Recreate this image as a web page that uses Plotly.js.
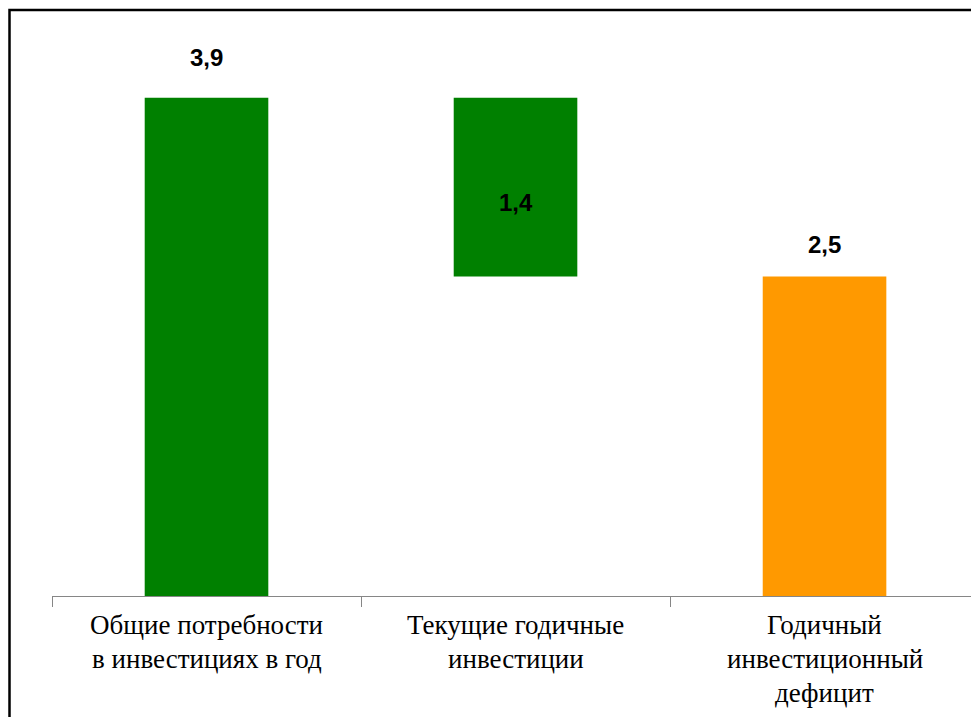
<!DOCTYPE html>
<html>
<head>
<meta charset="utf-8">
<script src="https://cdn.plot.ly/plotly-3.0.1.min.js"></script>
<style>
html,body{margin:0;padding:0;background:#fff;overflow:hidden;}
#chart{width:971px;height:717px;}
</style>
</head>
<body>
<div id="chart"></div>
<script>
// Data
const categories = [
  "Общие потребности<br>в инвестициях в год",
  "Текущие годичные<br>инвестиции",
  "Годичный<br>инвестиционный<br>дефицит"
];
const totalNeed = 3.9;
const currentInvest = 1.4;
const deficit = 2.5;
const values = [totalNeed, currentInvest, deficit];
const bases = [0, totalNeed - currentInvest, 0];
const barColors = ["#008000", "#008000", "#FF9900"];

const fmt = v => v.toFixed(1).replace(".", ",");

const trace = {
  type: "bar",
  x: categories,
  y: values,
  base: bases,
  marker: {color: barColors, line: {width: 0}},
  width: 0.4,
  hoverinfo: "skip"
};

const valueLabels = [
  {x: categories[0], y: bases[0] + values[0], yshift: 40},
  {x: categories[1], y: bases[1] + values[1] / 2, yshift: -15},
  {x: categories[2], y: bases[2] + values[2], yshift: 32}
].map((a, i) => Object.assign({
  text: "<b>" + fmt(values[i]) + "</b>",
  showarrow: false, xref: "x", yref: "y",
  xanchor: "center", yanchor: "middle",
  font: {family: "Liberation Sans", size: 24, color: "#000"}
}, a));

// category labels: one single-line annotation per text line
const labelFamilies = ["Times New Roman", "Liberation Serif", "serif"];
const categoryLabels = [];
categories.forEach((c, i) => {
  c.split("<br>").forEach((line, j) => {
    categoryLabels.push({
      text: line, x: c, xref: "x", y: 0, yref: "paper",
      xanchor: "center", yanchor: "top",
      yshift: -12 - 34 * j, showarrow: false,
      font: {family: labelFamilies[i], size: 27, color: "black"}
    });
  });
});

const layout = {
  width: 971, height: 717,
  margin: {l: 52, r: 0, t: 21, b: 121, pad: 0},
  paper_bgcolor: "#fff", plot_bgcolor: "#fff",
  font: {family: "Liberation Serif", size: 26, color: "black"},
  showlegend: false,
  xaxis: {
    type: "category",
    range: [-0.5, 2.474],
    showline: true, linecolor: "#868686", linewidth: 1,
    ticks: "outside", tickson: "boundaries", ticklen: 10, tickcolor: "#868686", tickwidth: 1,
    showticklabels: false,
    showgrid: false, zeroline: false, fixedrange: true
  },
  yaxis: {
    range: [0, 4.5],
    visible: false, showgrid: false, zeroline: false, fixedrange: true
  },
  annotations: valueLabels.concat(categoryLabels),
  shapes: [{
    type: "rect", xref: "paper", yref: "paper",
    x0: (9.5 - 52) / 919, x1: 1.05,
    y0: -0.25, y1: (596 - 10) / 575,
    line: {color: "#000", width: 2.5},
    fillcolor: "rgba(0,0,0,0)", layer: "above"
  }]
};

Plotly.newPlot("chart", [trace], layout, {displayModeBar: false, staticPlot: true});
</script>
</body>
</html>
